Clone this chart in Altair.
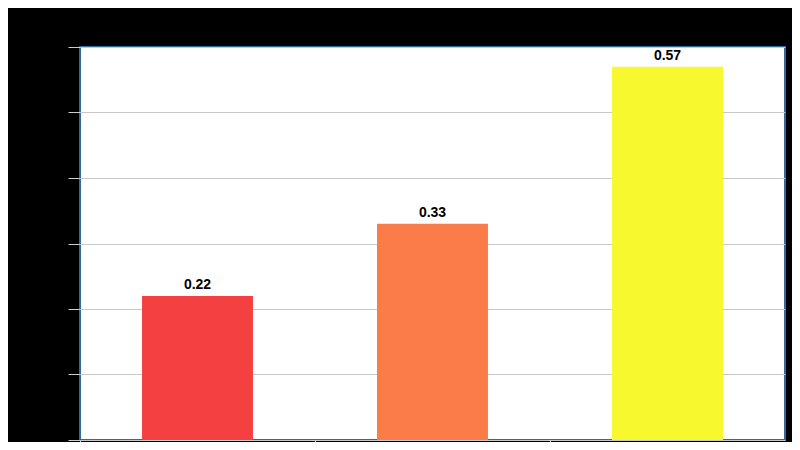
import altair as alt
import pandas as pd

categories = ["Category 1", "Category 2", "Category 3"]
values = [0.22, 0.33, 0.57]
colors = ["#f44040", "#fa7c48", "#f8f82e"]
y_ticks = [0, 0.1, 0.2, 0.3, 0.4, 0.5, 0.6]

df = pd.DataFrame({"category": categories, "value": values, "color": colors})

x = alt.X("category:N", sort=categories,
          scale=alt.Scale(paddingInner=0, paddingOuter=0),
          axis=alt.Axis(title=None, labels=False, bandPosition=0,
                        tickColor="#cccccc", tickSize=12, domain=False,
                        grid=False))
y = alt.Y("value:Q", scale=alt.Scale(domain=[0, 0.6], nice=False),
          axis=alt.Axis(title=None, labelColor="#000000", values=y_ticks,
                        labelBaseline="bottom", labelPadding=1,
                        tickColor="#cccccc", tickSize=12, domain=False,
                        gridColor="#c8c8c8", gridWidth=1, format=".1f"))

bars = alt.Chart(df).mark_bar(width=alt.RelativeBandSize(0.472)).encode(
    x=x, y=y, color=alt.Color("color:N", scale=None)
)
labels = alt.Chart(df).mark_text(dy=-7, baseline="alphabetic", fontWeight="bold",
                                 fontSize=14, font="Liberation Sans",
                                 color="#000000").encode(
    x=alt.X("category:N", sort=categories), y="value:Q",
    text=alt.Text("value:Q", format=".2f")
)

chart = (bars + labels).properties(
    width=705, height=393,
    background="#000000",
    padding={"left": 72, "top": 39, "right": 7, "bottom": 2},
    autosize=alt.AutoSizeParams(type="none"),
).configure_view(fill="#ffffff", stroke="#2f6aa3", strokeWidth=2)

chart.save("out.html", embed_options={"renderer": "svg", "actions": False})
